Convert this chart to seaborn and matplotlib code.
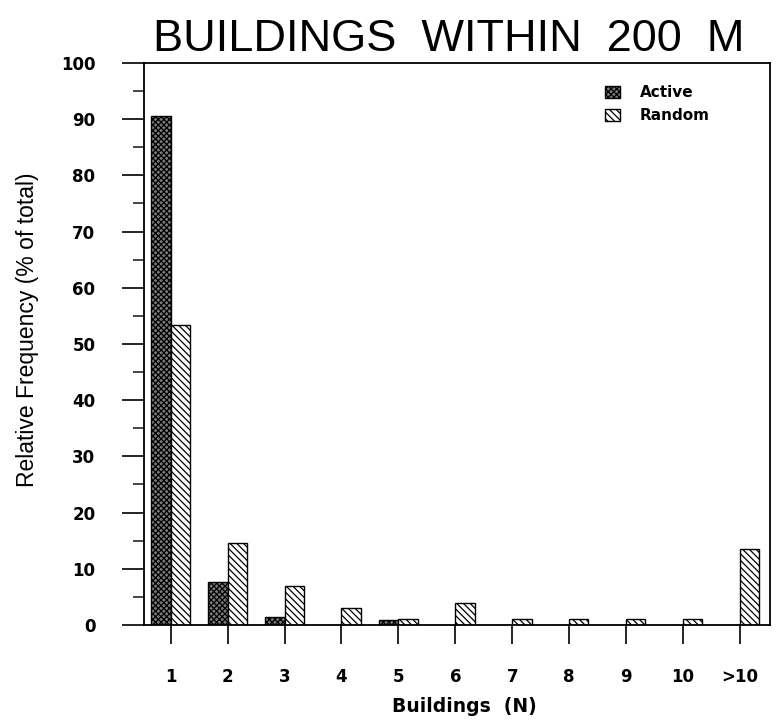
import numpy as np
import pandas as pd
import matplotlib
matplotlib.use("Agg")
import matplotlib.pyplot as plt
import seaborn as sns

# data
buildings = ["1", "2", "3", "4", "5", "6", "7", "8", "9", "10", ">10"]
active = [90.6, 7.6, 1.4, 0.0, 0.8, 0.0, 0.0, 0.0, 0.0, 0.0, 0.0]
random_ = [53.4, 14.5, 6.9, 3.1, 1.1, 4.0, 1.1, 1.1, 1.1, 1.1, 13.6]
groups = ["Active", "Random"]

df = pd.DataFrame({
    "buildings": buildings * 2,
    "freq": active + random_,
    "group": [groups[0]] * len(buildings) + [groups[1]] * len(buildings),
})

sns.set_theme(style="white")
plt.rcParams["font.family"] = ["DejaVu Sans"]
plt.rcParams["text.color"] = "black"
plt.rcParams["hatch.linewidth"] = 0.9

fig = plt.figure(figsize=(7.78, 7.28), dpi=100)
ax = fig.add_axes([0.1851, 0.1415, 0.8046, 0.772])

sns.barplot(data=df, x="buildings", y="freq", hue="group", order=buildings,
            hue_order=groups, palette=["#7a7a7a", "white"], width=0.68,
            edgecolor="black", linewidth=1.0, legend=False, ax=ax)

hatches = ["xxxxxx", "\\\\\\\\\\"]
for cont, h in zip(ax.containers, hatches):
    for bar in cont:
        bar.set_hatch(h)
        bar.set_edgecolor("black")

ax.set_xlim(-0.47, 10.53)
ax.set_ylim(0, 100)
ax.set_yticks(np.arange(0, 101, 10))
ax.set_yticks(np.arange(5, 100, 10), minor=True)

for s in ax.spines.values():
    s.set_visible(True)
    s.set_color("black")
    s.set_linewidth(1.3)

ax.tick_params(axis="y", which="major", direction="out", length=16, width=1.2,
               pad=19, left=True, labelsize=12, colors="black")
ax.tick_params(axis="y", which="minor", direction="out", length=8, width=1.2, left=True)
ax.tick_params(axis="x", which="major", direction="out", length=14, width=1.2,
               pad=17, bottom=True, labelsize=12, colors="black")
for lab in ax.get_xticklabels() + ax.get_yticklabels():
    lab.set_fontweight("bold")

ax.set_ylabel("Relative Frequency (% of total)", color="black",
              family=["Liberation Sans", "DejaVu Sans"], fontsize=16.5)
ax.yaxis.set_label_coords(-0.168, 0.525)
ax.set_xlabel("Buildings  (N)", fontsize=13.5, fontweight="bold", color="black")
ax.xaxis.set_label_coords(0.511, -0.128)

fig.text(0.577, 0.946, "BUILDINGS  WITHIN  200  M", ha="center", va="center",
         fontsize=32.5, color="black", family=["Liberation Sans", "DejaVu Sans"])

leg = ax.legend(ax.containers, groups, loc="upper left",
                bbox_to_anchor=(0.736, 0.96), frameon=False, fontsize=11,
                handlelength=1.0, handleheight=0.8, handletextpad=1.3,
                labelspacing=0.5, borderpad=0, borderaxespad=0)
for t in leg.get_texts():
    t.set_fontweight("bold")
    t.set_color("black")

plt.savefig("out.png", dpi=100)
